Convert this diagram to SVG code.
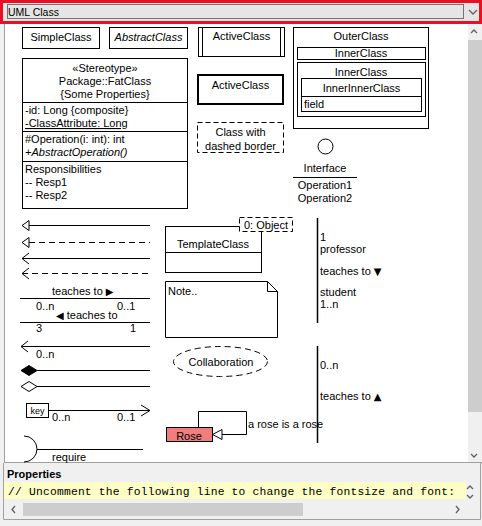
<svg xmlns="http://www.w3.org/2000/svg" width="482" height="526" viewBox="0 0 482 526">
<style>
text{font-family:"Liberation Sans",Arial,sans-serif;font-size:11px;fill:#000}
.c{text-anchor:middle}
.b{fill:#fff;stroke:#000;stroke-width:1}
.n{fill:none;stroke:#000;stroke-width:1}
.d{fill:none;stroke:#000;stroke-width:1;stroke-dasharray:6,4}
.tri{font-family:"DejaVu Sans",sans-serif;font-size:10px}
.mono{font-family:"Liberation Mono","Courier New",monospace;font-size:11.3px}
.ui{fill:none;stroke:#606060;stroke-width:1.3}
</style>
<rect x="0" y="0" width="482" height="526" fill="#f0f0f0"/>
<g id="combo">
<rect x="1.5" y="1.5" width="479" height="21" fill="#e5e5e5" stroke="#e81123" stroke-width="3"/>
<rect x="7.5" y="4.5" width="456" height="14" fill="none" stroke="#000" stroke-dasharray="1,1"/>
<text x="8" y="15.5" style="font-size:10.5px">UML Class</text>
<polyline class="ui" points="469,10 473,14 477,10"/>
</g>
<rect x="5" y="24" width="463" height="438" fill="#fff"/>
<line x1="4.5" y1="24" x2="4.5" y2="463" stroke="#a0a0a0"/>
<line x1="4" y1="462.5" x2="482" y2="462.5" stroke="#a0a0a0"/>
<rect x="468" y="24" width="14" height="438" fill="#f0f0f0"/>
<rect x="468" y="40" width="14" height="372" fill="#cdcdcd"/>
<polyline class="ui" points="471,33 474,30 477,33"/>
<polyline class="ui" points="471,454 474,457 477,454"/>

<g id="SimpleClass"><rect class="b" x="22.5" y="27.5" width="77" height="21"/><text class="c" x="61" y="41">SimpleClass</text></g>
<g id="AbstractClass"><rect class="b" x="109.5" y="27.5" width="78" height="21"/><text class="c" x="148.5" y="41" font-style="italic">AbstractClass</text></g>
<g id="ActiveClass1"><rect class="b" x="198.5" y="27.5" width="86" height="29"/><line class="n" x1="202.5" y1="27.5" x2="202.5" y2="56.5"/><line class="n" x1="280.5" y1="27.5" x2="280.5" y2="56.5"/><text class="c" x="241.5" y="40">ActiveClass</text></g>
<g id="OuterClass">
<rect class="b" x="293.5" y="27.5" width="135" height="101"/>
<text class="c" x="361" y="40">OuterClass</text>
<rect class="b" x="297.5" y="47.5" width="128" height="12"/>
<text class="c" x="361" y="56.5">InnerClass</text>
<rect class="b" x="297.5" y="62.5" width="128" height="54"/>
<text class="c" x="361" y="76">InnerClass</text>
<rect class="b" x="301.5" y="78.5" width="120" height="33"/>
<line class="n" x1="301.5" y1="96.5" x2="421.5" y2="96.5"/>
<text class="c" x="361.5" y="92">InnerInnerClass</text>
<text x="304" y="108">field</text>
</g>
<g id="ActiveClass2"><rect x="198" y="75" width="85" height="29" fill="#fff" stroke="#000" stroke-width="2"/><text class="c" x="240.5" y="88.5">ActiveClass</text></g>
<g id="DashedClass"><rect class="d" x="197.5" y="122.5" width="86" height="30" style="stroke-dasharray:5,3"/><text class="c" x="240.5" y="136">Class with</text><text class="c" x="240.5" y="149.5">dashed border</text></g>
<g id="Interface">
<circle class="b" cx="325.5" cy="146.5" r="7.5"/>
<text class="c" x="325" y="172">Interface</text>
<line class="n" x1="293" y1="177.5" x2="357" y2="177.5"/>
<text class="c" x="325" y="189">Operation1</text>
<text class="c" x="325" y="202">Operation2</text>
</g>
<g id="FatClass">
<rect class="b" x="22.5" y="58.5" width="165" height="150"/>
<text class="c" x="105" y="72">«Stereotype»</text>
<text class="c" x="105" y="85">Package::FatClass</text>
<text class="c" x="105" y="98">{Some Properties}</text>
<line class="n" x1="22.5" y1="102.5" x2="187.5" y2="102.5"/>
<text x="25" y="114">-id: Long {composite}</text>
<text x="25" y="127" text-decoration="underline">-ClassAttribute: Long</text>
<line class="n" x1="22.5" y1="131.5" x2="187.5" y2="131.5"/>
<text x="25" y="143">#Operation(i: int): int</text>
<text x="25" y="156" font-style="italic">+AbstractOperation()</text>
<line class="n" x1="22.5" y1="161.5" x2="187.5" y2="161.5"/>
<text x="25" y="173">Responsibilities</text>
<text x="25" y="186">-- Resp1</text>
<text x="25" y="198.5">-- Resp2</text>
</g>
<g id="TemplateClass">
<rect class="b" x="165.5" y="226.5" width="96" height="46"/>
<line class="n" x1="165.5" y1="252.5" x2="261.5" y2="252.5"/>
<text class="c" x="213" y="247.5">TemplateClass</text>
<rect x="239.5" y="217.5" width="53" height="14" fill="#fff" stroke="#000" stroke-dasharray="5,3"/>
<text x="244" y="229">0: Object</text>
</g>
<g id="Note">
<path class="b" d="M165.5,281.5 H267.5 L277.5,291.5 V337.5 H165.5 Z"/>
<polyline class="n" points="267.5,281.5 267.5,291.5 277.5,291.5"/>
<text x="168" y="295">Note..</text>
</g>
<g id="Collaboration"><ellipse cx="220.5" cy="361.5" rx="47" ry="15" fill="#fff" stroke="#000" stroke-dasharray="6,4"/><text class="c" x="221" y="365.5">Collaboration</text></g>
<g id="Rose"><rect x="166.5" y="427.5" width="46" height="14" fill="#f27d7d" stroke="#000"/><text class="c" x="189" y="440">Rose</text></g>

<g id="connectors">
<line class="n" x1="28" y1="225.5" x2="150" y2="225.5"/>
<polygon class="b" points="22,225.5 29,220.5 29,230.5"/>
<line class="d" x1="29" y1="242.5" x2="150" y2="242.5"/>
<polygon class="b" points="22,242.5 29,237.5 29,247.5"/>
<line class="n" x1="22" y1="258.5" x2="150" y2="258.5"/>
<polyline class="n" points="29,253 22,258.5 29,264"/>
<line class="d" x1="22" y1="273.5" x2="150" y2="273.5"/>
<polyline class="n" points="29,268 22,273.5 29,279"/>
<text x="52" y="295">teaches to <tspan class="tri">▶</tspan></text>
<line class="n" x1="20" y1="298.5" x2="150" y2="298.5"/>
<text x="36" y="310">0..n</text>
<text x="117" y="310">0..1</text>
<text x="56" y="319"><tspan class="tri">◀</tspan> teaches to</text>
<line class="n" x1="20" y1="322.5" x2="150" y2="322.5"/>
<text x="36" y="332">3</text>
<text x="130" y="332">1</text>
<line class="n" x1="21" y1="346.5" x2="150" y2="346.5"/>
<polyline class="n" points="28,341 21,346.5 28,352"/>
<text x="36" y="358">0..n</text>
<line class="n" x1="37" y1="370.5" x2="150" y2="370.5"/>
<polygon points="21,370.5 29,365.5 37,370.5 29,375.5" fill="#000" stroke="#000"/>
<line class="n" x1="37" y1="386.5" x2="150" y2="386.5"/>
<polygon class="b" points="21,386.5 29,381.5 37,386.5 29,391.5"/>
<rect class="b" x="26.5" y="403.5" width="22" height="14"/>
<text class="c" x="37.5" y="413.5" style="font-size:9px">key</text>
<line class="n" x1="48.5" y1="410.5" x2="150" y2="410.5"/>
<polyline class="n" points="141,405 150,410.5 141,416"/>
<text x="52" y="421">0..n</text>
<text x="117" y="421">0..1</text>
<path class="n" d="M24,436 A13,13 0 0 1 24,462"/>
<line class="n" x1="37" y1="449.5" x2="143" y2="449.5"/>
<text x="52" y="461">require</text>
<line x1="317.5" y1="218" x2="317.5" y2="323" stroke="#000" stroke-width="1.5"/>
<text x="320" y="241">1</text>
<text x="320" y="253">professor</text>
<text x="320" y="275">teaches to <tspan class="tri">▼</tspan></text>
<text x="320" y="296">student</text>
<text x="320" y="308">1..n</text>
<line x1="317.5" y1="346" x2="317.5" y2="443" stroke="#000" stroke-width="1.5"/>
<text x="320" y="369">0..n</text>
<text x="320" y="400">teaches to <tspan class="tri">▲</tspan></text>
<polyline class="n" points="198.5,427 198.5,411.5 246.5,411.5 246.5,434.5 221,434.5"/>
<polygon class="b" points="212.5,434.5 222,429.5 222,439.5"/>
<text x="248" y="428">a rose is a rose</text>
</g>

<g id="properties">
<text x="7" y="478" font-weight="bold">Properties</text>
<rect x="4" y="482" width="462" height="17" fill="#fdfdc6"/>
<text class="mono" x="8" y="494.5" textLength="447" lengthAdjust="spacing">// Uncomment the following line to change the fontsize and font:</text>
<polyline class="ui" points="467,489 470,486 473,489"/>
<polyline class="ui" points="467,495 470,498 473,495"/>
<rect x="4" y="501" width="462" height="17" fill="#f0f0f0"/>
<rect x="23" y="503" width="280" height="13" fill="#cdcdcd"/>
<polyline class="ui" points="15,506 12,509.5 15,513"/>
<polyline class="ui" points="456,506 459,509.5 456,513"/>
<polyline points="3.5,463 3.5,519.5 480.5,519.5 480.5,463" fill="none" stroke="#a0a0a0"/>
</g>
</svg>
